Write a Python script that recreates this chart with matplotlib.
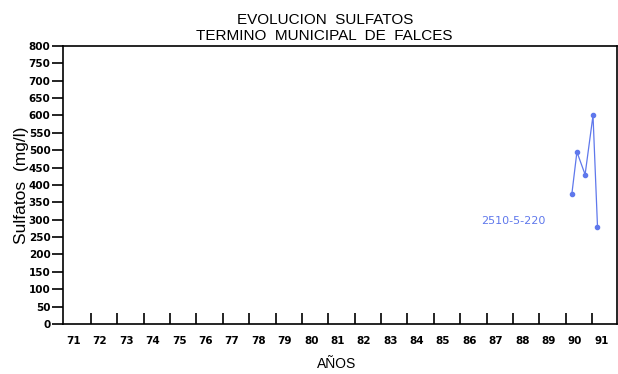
import matplotlib
matplotlib.use("Agg")
import matplotlib.pyplot as plt

# Sulfate samples, well 2510-5-220 (decimal year, mg/l)
years = [90.23, 90.42, 90.73, 91.03, 91.20]
sulfatos = [375, 495, 430, 600, 280]
serie = "2510-5-220"

year_labels = [str(y) for y in range(71, 92)]
year_bounds = list(range(72, 92))
y_ticks = list(range(0, 801, 50))

blue = "#5f78ec"

fig = plt.figure(figsize=(6.18, 3.74), dpi=100)
ax = fig.add_axes([0.102, 0.134, 0.896, 0.743])

ax.plot(years, sulfatos, color=blue, lw=0.9, marker="o", ms=3,
        mfc=blue, mec=blue)
ax.text(88.0, 296, serie, color=blue, fontsize=8, fontweight="normal",
        ha="center", va="center", family="DejaVu Sans")

ax.set_xlim(70.95, 91.93)
ax.set_ylim(0, 800)

# year boundaries as inward ticks, labels in between
ax.set_xticks(year_bounds)
ax.set_xticklabels([])
ax.tick_params(axis="x", direction="in", length=8, width=1.2, color="black")
for i, lab in enumerate(year_labels):
    ax.text(71 + i + 0.35, -0.045, lab, transform=ax.get_xaxis_transform(),
            ha="center", va="top", fontsize=7.5, fontweight="bold")

ax.set_yticks(y_ticks)
ax.set_yticklabels([str(v) for v in y_ticks], fontsize=7.5, fontweight="bold")
ax.tick_params(axis="y", direction="out", length=8, width=1.2, pad=1)

for s in ax.spines.values():
    s.set_linewidth(1.2)

ax.set_ylabel("Sulfatos  (mg/l)", fontsize=12.5, family="Liberation Sans",
              labelpad=0)
fig.text(0.545, 0.008, "AÑOS", ha="center", va="bottom", fontsize=10,
         family="Liberation Sans")
fig.text(0.527, 0.965, "EVOLUCION  SULFATOS", ha="center", va="top",
         fontsize=11, family="Liberation Sans")
fig.text(0.525, 0.922, "TERMINO  MUNICIPAL  DE  FALCES", ha="center",
         va="top", fontsize=11, family="Liberation Sans")

fig.savefig("out.png", dpi=100)
